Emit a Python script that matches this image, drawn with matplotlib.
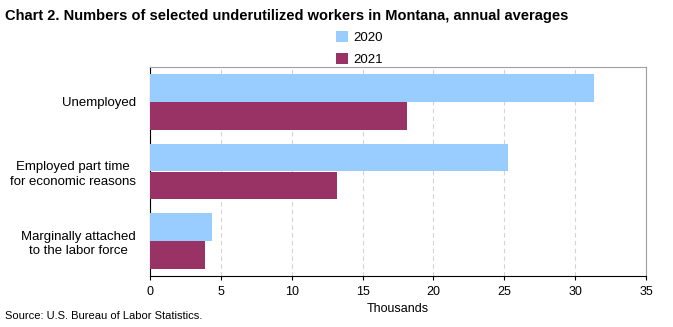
import numpy as np
import matplotlib.pyplot as plt

plt.rcParams['font.family'] = ['Liberation Sans', 'DejaVu Sans']

categories = ['Unemployed', 'Employed part time\nfor economic reasons', 'Marginally attached\nto the labor force']
values_2020 = [31.3, 25.25, 4.35]
values_2021 = [18.1, 13.2, 3.9]
years = ['2020', '2021']
colors = ['#99ccff', '#993366']

fig = plt.figure(figsize=(6.73, 3.27), dpi=100)
ax = fig.add_axes([150 / 673, 51 / 327, 496 / 673, 209 / 327])

y = np.arange(len(categories))
h = 0.4
ax.barh(y - h / 2, values_2020, height=h, color=colors[0], label=years[0], zorder=3)
ax.barh(y + h / 2, values_2021, height=h, color=colors[1], label=years[1], zorder=3)

ax.set_ylim(2.5, -0.5)
ax.set_xlim(0, 35)
ax.set_xticks(range(0, 36, 5))
ax.set_yticks(y)
ax.set_yticklabels(categories, multialignment='center', fontsize=9.5, linespacing=1.3)
ax.tick_params(axis='y', length=0, pad=10)
ax.tick_params(axis='x', length=3, width=0.8, labelsize=9, pad=4)
ax.xaxis.grid(True, linestyle=(0, (4, 3)), color='#d4d4d4', linewidth=0.8, zorder=0)

for side in ['top', 'right']:
    ax.spines[side].set_color('#a0a0a0')
for side in ['left', 'bottom']:
    ax.spines[side].set_color('black')

ax.set_xlabel('Thousands', fontsize=9, labelpad=4)

fig.text(5 / 673, 1 - 16 / 327, 'Chart 2. Numbers of selected underutilized workers in Montana, annual averages',
         fontsize=10.5, fontweight='bold', va='center', ha='left')

fig.legend(loc='upper left', bbox_to_anchor=(336 / 673, 1 - 31 / 327), frameon=False,
           fontsize=9.5, handlelength=0.9, handleheight=0.9, handletextpad=0.4, labelspacing=0.7,
           borderaxespad=0, borderpad=0)

fig.text(5 / 673, 1 - 316 / 327, 'Source: U.S. Bureau of Labor Statistics.', fontsize=8, va='center', ha='left')

fig.savefig('out.png', dpi=100)
